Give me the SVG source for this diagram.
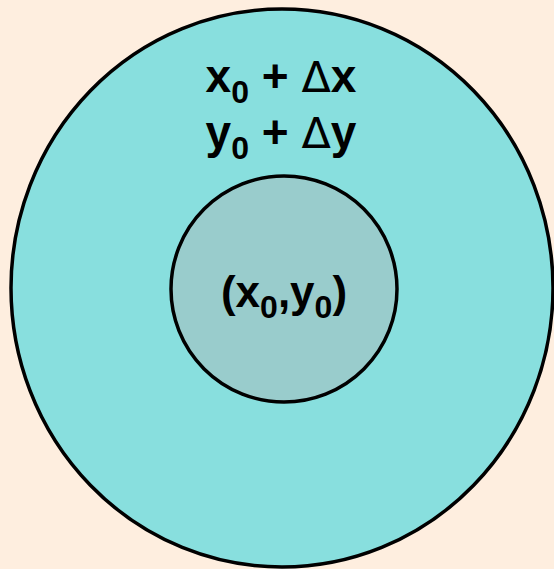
<svg xmlns="http://www.w3.org/2000/svg" width="554" height="569" viewBox="0 0 554 569">
<style>
.lbl{font-family:"Liberation Sans",Arial,sans-serif;font-weight:bold;font-size:44px;fill:#000}
.big{font-size:46px}
.sub{font-size:32px}
.d{font-family:"DejaVu Sans","Liberation Sans",sans-serif;font-weight:normal;font-size:43px}
</style>
<rect x="0" y="0" width="554" height="569" fill="#FEEEDF"/>
<g id="outer">
<ellipse cx="282" cy="288" rx="271" ry="279" fill="#88DFDE" stroke="#000" stroke-width="3.5"/>
<text class="lbl big" x="281" y="92" text-anchor="middle">x<tspan class="sub" dy="11">0</tspan><tspan dy="-11"> + </tspan><tspan class="d">Δ</tspan>x</text>
<text class="lbl big" x="281" y="148" text-anchor="middle">y<tspan class="sub" dy="11">0</tspan><tspan dy="-11"> + </tspan><tspan class="d">Δ</tspan>y</text>
</g>
<g id="inner">
<circle cx="284" cy="289" r="113" fill="#99CCCC" stroke="#000" stroke-width="3.5"/>
<text class="lbl" x="284" y="307" text-anchor="middle">(x<tspan class="sub" dy="11">0</tspan><tspan dy="-11">,y</tspan><tspan class="sub" dy="11">0</tspan><tspan dy="-11">)</tspan></text>
</g>
</svg>
